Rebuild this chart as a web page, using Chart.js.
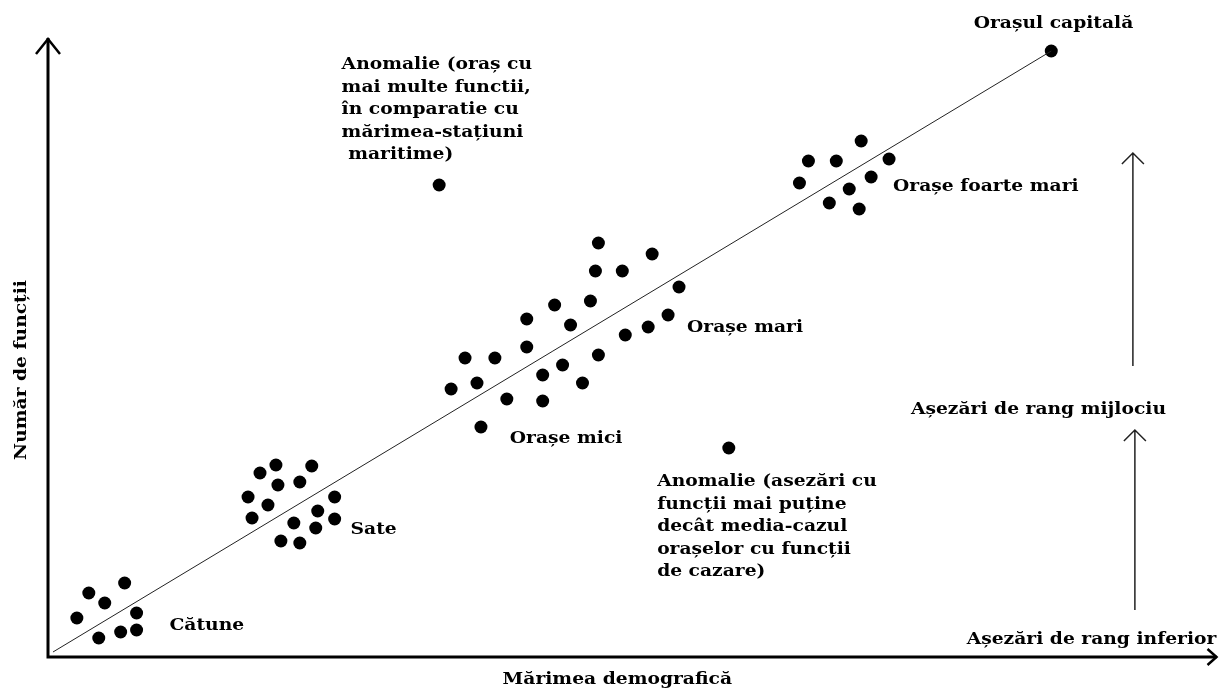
<!DOCTYPE html>
<html>
<head>
<meta charset="utf-8">
<script src="https://cdn.jsdelivr.net/npm/chart.js@4.4.1/dist/chart.umd.min.js"></script>
<style>
  html, body { margin: 0; padding: 0; background: #fff; }
  #chart { display: block; }
</style>
</head>
<body>
<canvas id="chart" width="1223" height="689"></canvas>
<script>
// values (arbitrary units: size on x, functions on y)
const catuneX = [2.9, 4.1, 5.7, 7.7, 8.9, 8.9, 7.3, 5.1];
const catuneY = [3.9, 6.4, 5.4, 7.4, 4.4, 2.7, 2.5, 1.9];

const sateX = [21.3, 22.9, 26.5, 23.1, 25.3, 20.1, 22.1, 20.5, 28.8, 27.1, 28.8, 24.7, 26.9, 23.4, 25.3];
const sateY = [18.4, 19.2, 19.1, 17.2, 17.5, 16.0, 15.2, 13.9, 16.0, 14.6, 13.8, 13.4, 12.9, 11.6, 11.4];

const oraseX = [55.3, 60.7, 55.0, 57.7, 63.4, 50.9, 54.5, 48.1, 52.5, 62.3, 60.3, 58.0,
                48.1, 41.9, 44.9, 55.3, 51.7, 49.7, 40.5, 43.1, 53.7, 46.1, 49.7, 43.5];
const oraseY = [41.4, 40.3, 38.6, 38.6, 37.0, 35.2, 35.6, 33.8, 33.2, 34.2, 33.0, 32.2,
                31.0, 29.9, 29.9, 30.2, 29.2, 28.2, 26.8, 27.4, 27.4, 25.8, 25.6, 23.0];

const foarteMariX = [76.4, 79.2, 81.7, 84.5, 75.5, 80.5, 82.7, 78.5, 81.5];
const foarteMariY = [49.6, 49.6, 51.6, 49.8, 47.4, 46.8, 48.0, 45.4, 44.8];

const anomalieX = [39.3, 68.4];
const anomalieY = [47.2, 20.9];

const capitalaX = [100.8];
const capitalaY = [60.6];

const trendX = [0.5, 100.8];
const trendY = [0.5, 60.6];

const X_MAX = 117.4;
const Y_MAX = 61.9;

// text labels, anchored in data units
const labels = [
    { lines: ['Orașul capitală'], x: 93.0, y: 63.3 },
    { lines: ['Orașe foarte mari'], x: 84.9, y: 47.0 },
    { lines: ['Orașe mari'], x: 64.2, y: 32.9 },
    { lines: ['Orașe mici'], x: 46.4, y: 21.8 },
    { lines: ['Sate'], x: 30.4, y: 12.7 },
    { lines: ['Cătune'], x: 12.2, y: 3.1 },
    { lines: ['Anomalie (oraș cu', 'mai multe functii,', 'în comparatie cu', 'mărimea-stațiuni', ' maritime)'], x: 29.5, y: 59.2 },
    { lines: ['Anomalie (asezări cu', 'funcții mai puține', 'decât media-cazul', 'orașelor cu funcții', 'de cazare)'], x: 61.2, y: 17.5 },
    { lines: ['Așezări de rang mijlociu'], x: 86.7, y: 24.7 },
    { lines: ['Așezări de rang inferior'], x: 92.3, y: 1.7 }
];

// rank arrows on the right (x, from y, to y)
const rankArrows = [
    { x: 109.0, y0: 29.1, y1: 50.4 },
    { x: 109.2, y0: 4.7, y1: 22.7 }
];

const FONT = 'bold 17px "DejaVu Serif", serif';
const STRETCH = 1.1; // the original face is wider than DejaVu

function pts(xs, ys) {
    return xs.map((x, i) => ({ x, y: ys[i] }));
}

function dotSet(xs, ys) {
    return {
        type: 'scatter',
        data: pts(xs, ys),
        backgroundColor: '#000',
        borderWidth: 0,
        pointRadius: 6.5,
        pointHoverRadius: 6.5
    };
}

function wideText(ctx, t, x, y, rot) {
    ctx.save();
    ctx.translate(x, y);
    if (rot) ctx.rotate(rot);
    ctx.scale(STRETCH, 1);
    ctx.fillText(t, 0, 0);
    ctx.restore();
}

const decorPlugin = {
    id: 'decor',
    afterDraw(chart) {
        const ctx = chart.ctx;
        const xs = chart.scales.x;
        const ys = chart.scales.y;
        const area = chart.chartArea;
        const px = v => xs.getPixelForValue(v);
        const py = v => ys.getPixelForValue(v);

        ctx.save();
        ctx.strokeStyle = '#000';
        ctx.lineCap = 'butt';

        // main axes
        ctx.lineWidth = 3;
        ctx.beginPath();
        ctx.moveTo(area.left, area.bottom + 1.5);
        ctx.lineTo(area.left, area.top);
        ctx.moveTo(area.left - 1.5, area.bottom);
        ctx.lineTo(area.right, area.bottom);
        ctx.stroke();

        ctx.lineWidth = 2.5;
        ctx.beginPath();
        ctx.moveTo(area.left - 12, area.top + 16);
        ctx.lineTo(area.left, area.top + 1);
        ctx.lineTo(area.left + 12, area.top + 16);
        ctx.moveTo(area.right - 9, area.bottom - 8);
        ctx.lineTo(area.right, area.bottom);
        ctx.lineTo(area.right - 9, area.bottom + 8);
        ctx.stroke();

        // rank arrows
        ctx.lineWidth = 1.5;
        ctx.strokeStyle = '#222';
        rankArrows.forEach(a => {
            const x = px(a.x);
            const yTop = py(a.y1);
            ctx.beginPath();
            ctx.moveTo(x, py(a.y0));
            ctx.lineTo(x, yTop);
            ctx.moveTo(x - 11, yTop + 11);
            ctx.lineTo(x, yTop);
            ctx.lineTo(x + 11, yTop + 11);
            ctx.stroke();
        });

        // labels
        ctx.fillStyle = '#000';
        ctx.font = FONT;
        ctx.textAlign = 'left';
        ctx.textBaseline = 'middle';
        labels.forEach(l => {
            l.lines.forEach((t, i) => {
                wideText(ctx, t, px(l.x), py(l.y) + i * 22.5);
            });
        });

        // axis titles
        ctx.textAlign = 'center';
        wideText(ctx, 'Mărimea demografică', px(57.2), area.bottom + 23);
        wideText(ctx, 'Număr de funcții', 22, py(28.7), -Math.PI / 2);
        ctx.restore();
    }
};

new Chart(document.getElementById('chart'), {
    data: {
        datasets: [
            {
                type: 'line',
                data: pts(trendX, trendY),
                borderColor: '#222',
                borderWidth: 1,
                pointRadius: 0,
                fill: false
            },
            dotSet(catuneX, catuneY),
            dotSet(sateX, sateY),
            dotSet(oraseX, oraseY),
            dotSet(foarteMariX, foarteMariY),
            dotSet(anomalieX, anomalieY),
            dotSet(capitalaX, capitalaY)
        ]
    },
    options: {
        responsive: false,
        animation: false,
        layout: { padding: { left: 48, right: 1, top: 38, bottom: 32 } },
        plugins: {
            legend: { display: false },
            tooltip: { enabled: false }
        },
        scales: {
            x: { type: 'linear', min: 0, max: X_MAX, display: false },
            y: { type: 'linear', min: 0, max: Y_MAX, display: false }
        }
    },
    plugins: [decorPlugin]
});
</script>
</body>
</html>
